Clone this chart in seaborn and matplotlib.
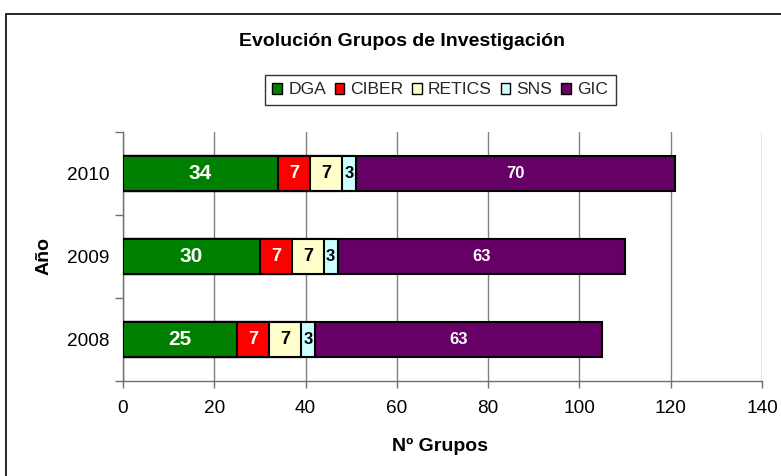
import numpy as np
import pandas as pd
import matplotlib
matplotlib.use("Agg")
import matplotlib.pyplot as plt
import seaborn as sns
from matplotlib.patches import Patch, Rectangle

years = ["2010", "2009", "2008"]
series = ["DGA", "CIBER", "RETICS", "SNS", "GIC"]
dga = [34, 30, 25]
ciber = [7, 7, 7]
retics = [7, 7, 7]
sns_vals = [3, 3, 3]
gic = [70, 63, 63]
xticks = [0, 20, 40, 60, 80, 100, 120, 140]

colors = ["#008000", "#FF0000", "#FFFFCC", "#CCFFFF", "#660066"]
label_colors = ["white", "white", "black", "black", "white"]
label_sizes = [15, 13, 13, 12, 12]

sns.set_theme(style="white")
plt.rcParams['font.family'] = ['Liberation Sans', 'DejaVu Sans']

values = np.array([dga, ciber, retics, sns_vals, gic])
cum = values.cumsum(axis=0)
lefts = cum - values

fig = plt.figure(figsize=(7.81, 4.76), dpi=100)
ax = fig.add_axes([123/781, 1-381/476, (762-123)/781, (381-132)/476])

for i in reversed(range(len(series))):
    df = pd.DataFrame({"year": years, "total": cum[i]})
    sns.barplot(data=df, x="total", y="year", order=years, orient="h",
                color=colors[i], width=0.41, edgecolor="black", linewidth=1.5,
                saturation=1, ax=ax, zorder=3)

for i in range(len(series)):
    for j in range(len(years)):
        ax.text(lefts[i][j] + values[i][j] / 2, j, str(values[i][j]),
                ha="center", va="center", color=label_colors[i],
                fontweight="bold", fontsize=label_sizes[i], zorder=5)

ax.set_xlim(0, 140)
ax.set_ylim(2.5, -0.5)
ax.set_xticks(xticks)
ax.set_xticklabels([str(t) for t in xticks], fontsize=13.7, color="black")
ax.set_yticks(range(len(years)))
ax.set_yticklabels(years, fontsize=13.7, color="black")
ax.set_yticks([-0.5, 0.5, 1.5, 2.5], minor=True)
ax.tick_params(axis="y", which="major", length=0, pad=10)
ax.tick_params(axis="y", which="minor", length=6, width=1, color="#707070", direction="out", left=True)
ax.tick_params(axis="x", which="major", length=5, width=1, color="#707070", direction="out", bottom=True, pad=8.5)

ax.grid(axis="x", color="#808080", linewidth=1, zorder=0)
ax.grid(axis="y", visible=False)
ax.set_axisbelow(True)
for s in ["top", "right"]:
    ax.spines[s].set_visible(False)
for s in ["left", "bottom"]:
    ax.spines[s].set_color("#707070")
    ax.spines[s].set_linewidth(1)

ax.set_ylabel("Año", fontsize=14, fontweight="bold", color="black")
ax.yaxis.label.set_va("center")
ax.yaxis.set_label_coords((44 - 123) / 639, (381 - 256) / 249)
ax.set_xlabel("Nº Grupos", fontsize=14, fontweight="bold", color="black")
ax.xaxis.label.set_va("center")
ax.xaxis.set_label_coords((440 - 123) / 639, (381 - 446) / 249)

handles = [Patch(facecolor=c, edgecolor="black", linewidth=1, label=s) for c, s in zip(colors, series)]
leg = fig.legend(handles=handles, ncol=5, loc="center", bbox_to_anchor=(440/781, 1-90/476),
                 frameon=True, fancybox=False, edgecolor="black", fontsize=12.6,
                 handlelength=0.55, handleheight=0.55, handletextpad=0.35,
                 columnspacing=0.5, borderpad=0.45, borderaxespad=0)
leg.get_frame().set_linewidth(1)

fig.text(402/781, 1-42/476, "Evolución Grupos de Investigación", ha="center", va="center",
         fontsize=14, fontweight="bold", color="black")

fig.patches.append(Rectangle((5.5/781, -0.1), 1.2, 1 - 13.5/476 + 0.1, transform=fig.transFigure,
                             fill=False, edgecolor="black", linewidth=1.2, clip_on=False))

fig.savefig("out.png", dpi=100)
